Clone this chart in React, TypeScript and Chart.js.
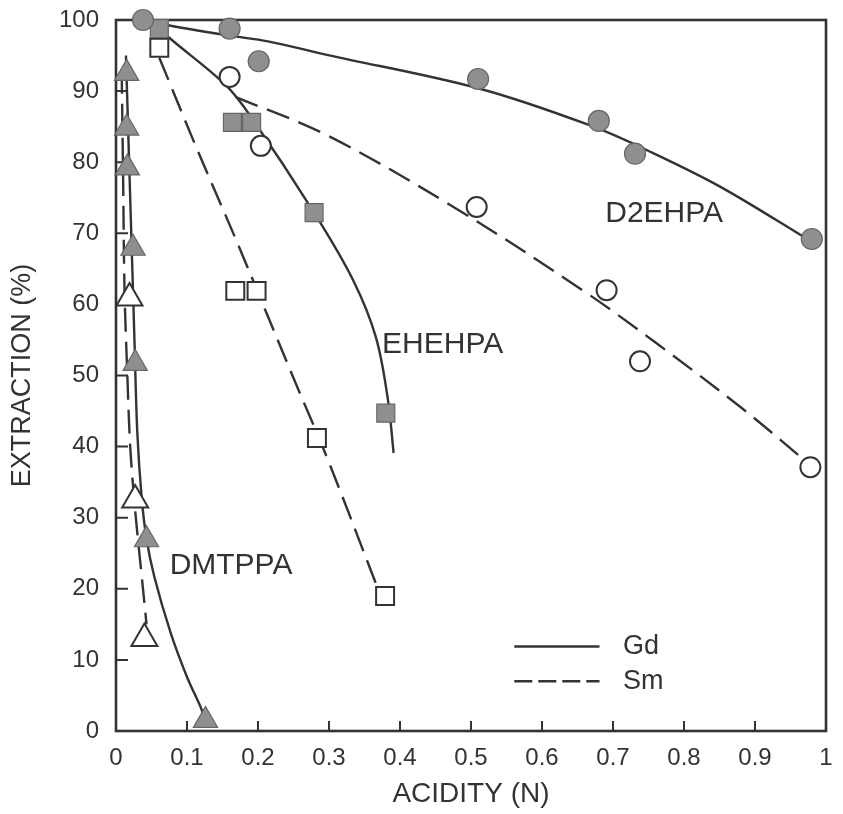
import React, { useEffect, useRef } from "react";
import { Chart, registerables } from "chart.js";

Chart.register(...registerables);

// ---- axis ticks ----
const xTickValues = [0, 0.1, 0.2, 0.3, 0.4, 0.5, 0.6, 0.7, 0.8, 0.9, 1];
const xTickLabels = ["0", "0.1", "0.2", "0.3", "0.4", "0.5", "0.6", "0.7", "0.8", "0.9", "1"];
const yTickValues = [0, 10, 20, 30, 40, 50, 60, 70, 80, 90, 100];
const yTickLabels = ["0", "10", "20", "30", "40", "50", "60", "70", "80", "90", "100"];

// ---- D2EHPA ----
const d2ehpaGdX = [0.038, 0.16, 0.201, 0.51, 0.68, 0.731, 0.98];
const d2ehpaGdY = [100, 98.8, 94.2, 91.7, 85.8, 81.2, 69.2];
const d2ehpaGdCurveX = [0.04, 0.065, 0.16, 0.214, 0.297, 0.51, 0.667, 0.754, 0.852, 0.98];
const d2ehpaGdCurveY = [100, 99.4, 97.8, 97.0, 95.1, 90.4, 85.2, 81.4, 76.5, 68.8];

const d2ehpaSmX = [0.16, 0.204, 0.508, 0.691, 0.738, 0.978];
const d2ehpaSmY = [92.0, 82.3, 73.7, 62.0, 52.0, 37.1];
const d2ehpaSmCurveX = [0.168, 0.297, 0.477, 0.657, 0.759, 0.879, 0.978];
const d2ehpaSmCurveY = [89.2, 83.8, 73.6, 62.0, 54.7, 45.6, 37.4];

// ---- EHEHPA ----
const ehehpaGdX = [0.061, 0.164, 0.191, 0.279, 0.38];
const ehehpaGdY = [98.8, 85.6, 85.6, 72.9, 44.7];
const ehehpaGdCurveX = [0.061, 0.075, 0.154, 0.19, 0.279, 0.334, 0.366, 0.383, 0.391];
const ehehpaGdCurveY = [98.9, 97.5, 90.9, 86.4, 72.9, 63.4, 55.4, 46.6, 39.1];

const ehehpaSmX = [0.061, 0.168, 0.198, 0.283, 0.379];
const ehehpaSmY = [96.1, 61.9, 61.9, 41.2, 19.0];
const ehehpaSmCurveX = [0.061, 0.113, 0.169, 0.251, 0.297, 0.367];
const ehehpaSmCurveY = [94.7, 82.1, 69.1, 49.4, 38.5, 20.5];

// ---- DMTPPA ----
const dmtppaGdX = [0.015, 0.015, 0.016, 0.024, 0.027, 0.043, 0.126];
const dmtppaGdY = [92.5, 84.8, 79.2, 67.9, 51.7, 26.9, 1.5];
const dmtppaGdCurveX = [0.014, 0.017, 0.02, 0.023, 0.026, 0.03, 0.036, 0.043, 0.054, 0.077, 0.1, 0.119, 0.126];
const dmtppaGdCurveY = [95, 85, 75, 65, 55, 42, 33, 27, 21.7, 13.8, 7.6, 3.4, 1.5];

const dmtppaSmX = [0.019, 0.027, 0.04];
const dmtppaSmY = [60.9, 32.5, 13.0];
const dmtppaSmCurveX = [0.008, 0.01, 0.012, 0.016, 0.02, 0.027, 0.036, 0.043];
const dmtppaSmCurveY = [93, 78, 62, 50, 40, 31, 22, 15];

// ---- annotations ----
const seriesLabels = ["D2EHPA", "EHEHPA", "DMTPPA"];
const seriesLabelX = [0.772, 0.46, 0.162];
const seriesLabelY = [72.7, 54.3, 23.3];
const legendNames = ["Gd", "Sm"];
const legendY = [11.9, 7.0];
const legendLineX = [0.561, 0.681];
const legendTextX = 0.714;

const INK = "#333333";
const FILL_GRAY = "#8f8f8f";
const FONT = '"Liberation Sans", Arial, sans-serif';

const pts = (xs: number[], ys: number[]) => xs.map((x, i) => ({ x, y: ys[i] }));

const curve = (xs: number[], ys: number[], dashed: boolean) => ({
  type: "line" as const,
  data: pts(xs, ys),
  showLine: true,
  borderColor: INK,
  borderWidth: 2.4,
  borderDash: dashed ? [24, 10] : [],
  pointRadius: 0,
  tension: 0.35,
  fill: false,
  clip: false as any,
  order: 2,
});

const markers = (xs: number[], ys: number[], style: string, filled: boolean, radius: number) => ({
  type: "scatter" as const,
  data: pts(xs, ys),
  showLine: false,
  pointStyle: style,
  pointRadius: radius,
  pointBackgroundColor: filled ? FILL_GRAY : "#ffffff",
  pointBorderColor: filled ? "#666666" : INK,
  pointBorderWidth: filled ? 1.2 : 2,
  clip: false as any,
  order: 1,
});

const decor = {
  id: "decor",
  beforeDatasetsDraw(chart: any) {
    const { ctx, chartArea: a, scales } = chart;
    const x = scales.x;
    const y = scales.y;
    ctx.save();
    ctx.strokeStyle = INK;
    ctx.lineWidth = 2.6;
    ctx.strokeRect(a.left, a.top, a.right - a.left, a.bottom - a.top);
    ctx.lineWidth = 2;
    ctx.beginPath();
    xTickValues.forEach((v) => {
      if (v <= 0 || v >= 1) return;
      const px = x.getPixelForValue(v);
      ctx.moveTo(px, a.bottom);
      ctx.lineTo(px, a.bottom - 10);
    });
    yTickValues.forEach((v) => {
      if (v <= 0 || v >= 100) return;
      const py = y.getPixelForValue(v);
      ctx.moveTo(a.left, py);
      ctx.lineTo(a.left + 12, py);
    });
    ctx.stroke();
    ctx.restore();
  },
  afterDatasetsDraw(chart: any) {
    const { ctx, scales } = chart;
    const x = scales.x;
    const y = scales.y;
    ctx.save();
    ctx.fillStyle = INK;
    ctx.textBaseline = "middle";
    ctx.textAlign = "center";
    ctx.font = `30px ${FONT}`;
    seriesLabels.forEach((t, i) => {
      ctx.fillText(t, x.getPixelForValue(seriesLabelX[i]), y.getPixelForValue(seriesLabelY[i]));
    });
    // legend
    ctx.strokeStyle = INK;
    ctx.lineWidth = 2.5;
    legendNames.forEach((name, i) => {
      const py = y.getPixelForValue(legendY[i]);
      ctx.setLineDash(i === 0 ? [] : [18, 6]);
      ctx.beginPath();
      ctx.moveTo(x.getPixelForValue(legendLineX[0]), py);
      ctx.lineTo(x.getPixelForValue(legendLineX[1]), py);
      ctx.stroke();
      ctx.setLineDash([]);
      ctx.textAlign = "left";
      ctx.font = `27px ${FONT}`;
      ctx.fillText(name, x.getPixelForValue(legendTextX), py);
    });
    ctx.restore();
  },
};

export default function App() {
  const ref = useRef<HTMLCanvasElement | null>(null);

  useEffect(() => {
    if (!ref.current) return;
    const chart = new Chart(ref.current, {
      type: "scatter",
      data: {
        datasets: [
          curve(d2ehpaGdCurveX, d2ehpaGdCurveY, false),
          curve(d2ehpaSmCurveX, d2ehpaSmCurveY, true),
          curve(ehehpaGdCurveX, ehehpaGdCurveY, false),
          curve(ehehpaSmCurveX, ehehpaSmCurveY, true),
          curve(dmtppaGdCurveX, dmtppaGdCurveY, false),
          curve(dmtppaSmCurveX, dmtppaSmCurveY, true),
          markers(d2ehpaGdX, d2ehpaGdY, "circle", true, 10.5),
          markers(d2ehpaSmX, d2ehpaSmY, "circle", false, 10),
          markers(ehehpaGdX, ehehpaGdY, "rect", true, 12.7),
          markers(ehehpaSmX, ehehpaSmY, "rect", false, 12.7),
          markers(dmtppaGdX, dmtppaGdY, "triangle", true, 14),
          markers(dmtppaSmX, dmtppaSmY, "triangle", false, 15),
        ] as any,
      },
      options: {
        responsive: false,
        maintainAspectRatio: false,
        animation: false,
        layout: { padding: { top: 20, right: 7, left: 0, bottom: 0 } },
        plugins: {
          legend: { display: false },
          tooltip: { enabled: false },
        },
        scales: {
          x: {
            type: "linear",
            min: 0,
            max: 1,
            afterFit: (s: any) => {
              s.height = 83;
            },
            afterBuildTicks: (s: any) => {
              s.ticks = xTickValues.map((v) => ({ value: v }));
            },
            ticks: {
              callback: (_v: any, i: number) => xTickLabels[i],
              font: { family: FONT, size: 24 },
              color: INK,
              padding: 0,
              maxRotation: 0,
              autoSkip: false,
            },
            grid: { display: false, drawTicks: true, tickLength: 13 },
            border: { display: false },
            title: {
              display: true,
              text: "ACIDITY (N)",
              font: { family: FONT, size: 28 },
              color: INK,
              padding: { top: 0, bottom: 3 },
            },
          },
          y: {
            type: "linear",
            min: 0,
            max: 100,
            afterFit: (s: any) => {
              s.width = 116;
            },
            afterBuildTicks: (s: any) => {
              s.ticks = yTickValues.map((v) => ({ value: v }));
            },
            ticks: {
              callback: (_v: any, i: number) => yTickLabels[i],
              font: { family: FONT, size: 24 },
              color: INK,
              padding: 0,
              autoSkip: false,
            },
            grid: { display: false, drawTicks: true, tickLength: 17 },
            border: { display: false },
            title: {
              display: true,
              text: "EXTRACTION (%)",
              font: { family: FONT, size: 27 },
              color: INK,
              padding: { top: 6, bottom: 0 },
            },
          },
        },
      } as any,
      plugins: [decor],
    });
    return () => chart.destroy();
  }, []);

  return (
    <div style={{ position: "absolute", left: 0, top: 0, width: 843, height: 814, background: "#fff" }}>
      <canvas ref={ref} width={843} height={814} style={{ display: "block" }} />
    </div>
  );
}
